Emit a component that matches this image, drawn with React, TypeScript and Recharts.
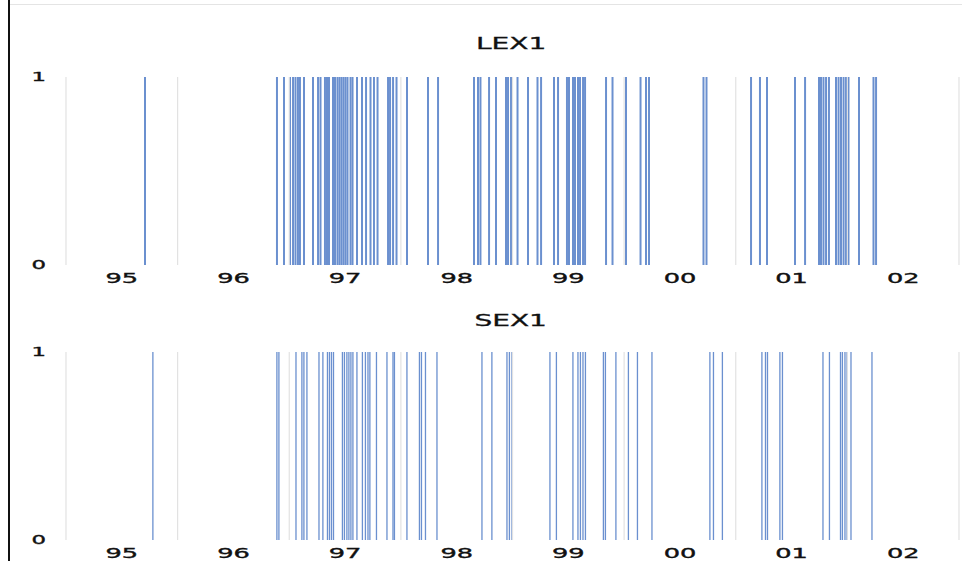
import { BarChart, Bar, XAxis, YAxis, ReferenceLine } from "recharts";

// event dates (decimal years) where the indicator equals 1
const lexEvents = [
  1995.708, 1996.89, 1996.953, 1997.007, 1997.034, 1997.056, 1997.078, 1997.096,
  1997.132, 1997.213, 1997.258, 1997.28, 1997.32, 1997.338, 1997.356, 1997.392,
  1997.41, 1997.432, 1997.45, 1997.468, 1997.486, 1997.504, 1997.522, 1997.549,
  1997.567, 1997.607, 1997.652, 1997.688, 1997.728, 1997.759, 1997.791, 1997.885,
  1997.903, 1997.93, 1997.961, 1998.055, 1998.243, 1998.333, 1998.655, 1998.691,
  1998.713, 1998.79, 1998.852, 1998.942, 1998.96, 1998.987, 1999.045, 1999.139,
  1999.224, 1999.256, 1999.372, 1999.408, 1999.488, 1999.506, 1999.542, 1999.56,
  1999.587, 1999.605, 1999.632, 1999.65, 1999.838, 1999.896, 2000.017, 2000.147,
  2000.196, 2000.223, 2000.711, 2000.738, 2001.137, 2001.217, 2001.28, 2001.531,
  2001.621, 2001.746, 2001.764, 2001.786, 2001.809, 2001.835, 2001.898, 2001.921,
  2001.943, 2001.966, 2001.988, 2002.01, 2002.104, 2002.234, 2002.257,
];

const sexEvents = [
  1995.779, 1996.89, 1996.908, 1997.061, 1997.114, 1997.132, 1997.159, 1997.267,
  1997.302, 1997.343, 1997.361, 1997.379, 1997.397, 1997.477, 1997.495, 1997.517,
  1997.535, 1997.553, 1997.571, 1997.607, 1997.656, 1997.683, 1997.706, 1997.723,
  1997.782, 1997.876, 1997.93, 1997.943, 1998.055, 1998.167, 1998.185, 1998.221,
  1998.324, 1998.727, 1998.816, 1998.951, 1998.973, 1998.996, 1999.336, 1999.394,
  1999.542, 1999.587, 1999.609, 1999.632, 1999.654, 1999.815, 1999.833, 1999.927,
  2000.039, 2000.12, 2000.25, 2000.769, 2000.801, 2000.881, 2001.235, 2001.267,
  2001.285, 2001.396, 2001.419, 2001.782, 2001.84, 2001.939, 2001.956, 2001.979,
  2001.997, 2002.033, 2002.221,
];

const yearBounds = [1995, 1996, 1997, 1998, 1999, 2000, 2001, 2002, 2003];
const yearLabels = ["95", "96", "97", "98", "99", "00", "01", "02"];
const labelTicks = [1995.5, 1996.5, 1997.5, 1998.5, 1999.5, 2000.5, 2001.5, 2002.5];

const FONT = "DejaVu Sans, sans-serif";
const BLUE = "#6b90cf";

function XTick(props: any) {
  const { x, y, payload } = props;
  const i = labelTicks.indexOf(payload.value);
  return (
    <g transform={`translate(${x},${y})`}>
      <text
        transform="scale(1.9,1)"
        textAnchor="middle"
        dy="0.72em"
        fontSize={13.5}
        fontFamily={FONT}
        fill="#111"
        stroke="#111"
        strokeWidth={0.35}
      >
        {yearLabels[i]}
      </text>
    </g>
  );
}

function YTick(props: any) {
  const { x, y, payload } = props;
  return (
    <g transform={`translate(${x},${y})`}>
      <text
        transform="scale(1.9,1)"
        textAnchor="end"
        dy="0.36em"
        fontSize={12}
        fontFamily={FONT}
        fill="#111"
        stroke="#111"
        strokeWidth={0.35}
      >
        {payload.value}
      </text>
    </g>
  );
}

function EventPanel({ title, events, top, marginTop, height, titleY }: any) {
  const data = events.map((t: number) => ({ t, v: 1 }));
  return (
    <div style={{ position: "absolute", left: 0, top, width: 962, height }}>
      <div
        style={{
          position: "absolute",
          left: 66,
          width: 890,
          top: titleY,
          textAlign: "center",
          fontFamily: FONT,
          fontSize: 16,
          color: "#111",
          lineHeight: "16px",
          WebkitTextStroke: "0.3px #111",
        }}
      >
        <span style={{ display: "inline-block", transform: "scaleX(1.75)" }}>{title}</span>
      </div>
      <BarChart
        width={962}
        height={height}
        data={data}
        margin={{ top: marginTop, right: 3, left: 0, bottom: 0 }}
      >
        {yearBounds.map((yb) => (
          <ReferenceLine key={yb} x={yb} stroke="#e2e2e2" strokeWidth={1.2} />
        ))}
        <XAxis
          dataKey="t"
          type="number"
          domain={[1995, 2003]}
          ticks={labelTicks}
          interval={0}
          axisLine={false}
          tickLine={false}
          tickSize={0}
          tickMargin={8}
          height={height - marginTop - 188}
          tick={<XTick />}
        />
        <YAxis
          type="number"
          domain={[0, 1]}
          ticks={[0, 1]}
          axisLine={false}
          tickLine={false}
          tickSize={0}
          tickMargin={20}
          width={66}
          tick={<YTick />}
        />
        <Bar dataKey="v" fill={BLUE} barSize={2} isAnimationActive={false} />
      </BarChart>
    </div>
  );
}

export default function App() {
  return (
    <div
      style={{
        position: "absolute",
        left: 0,
        top: 0,
        width: 962,
        height: 561,
        background: "#fff",
        overflow: "hidden",
      }}
    >
      <div style={{ position: "absolute", left: 8, top: 0, width: 2, height: 561, background: "#111" }} />
      <div style={{ position: "absolute", left: 10, top: 4, width: 952, height: 1, background: "#e4e4e4" }} />
      <EventPanel title="LEX1" events={lexEvents} top={0} marginTop={77} height={300} titleY={36} />
      <EventPanel title="SEX1" events={sexEvents} top={300} marginTop={52} height={261} titleY={13} />
    </div>
  );
}
